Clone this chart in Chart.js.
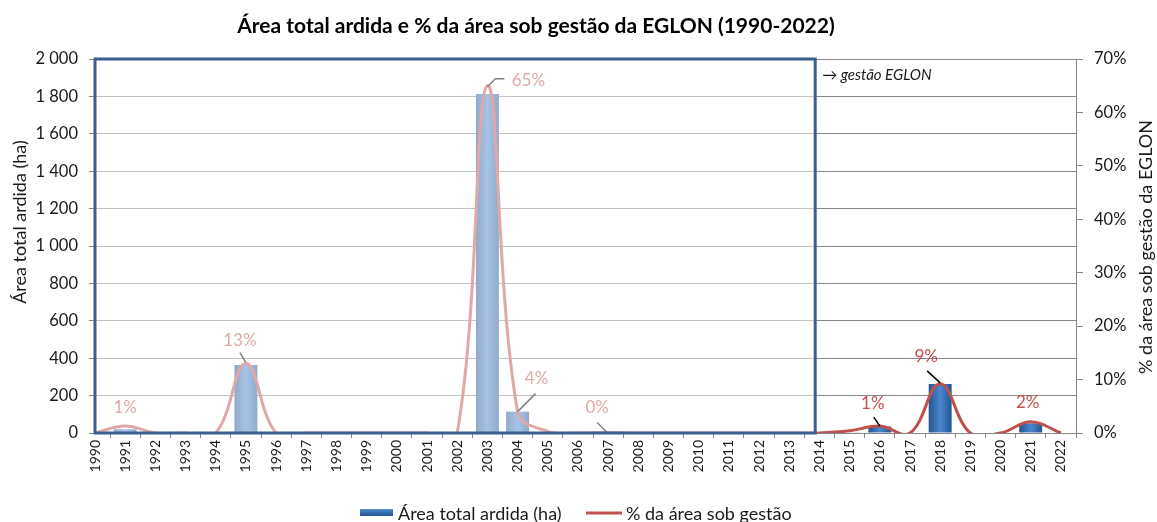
<!DOCTYPE html>
<html><head><meta charset="utf-8">
<script src="https://cdn.jsdelivr.net/npm/chart.js@4.4.1/dist/chart.umd.min.js"></script>
<style>html,body{margin:0;padding:0;background:#fff;overflow:hidden}#wrap{width:1157px;height:522px;position:relative}</style>
</head><body><div id="wrap"><canvas id="c" width="1157" height="522"></canvas></div>
<script>
// ---- data ----
const years = [1990,1991,1992,1993,1994,1995,1996,1997,1998,1999,2000,2001,2002,2003,2004,2005,2006,2007,2008,2009,2010,2011,2012,2013,2014,2015,2016,2017,2018,2019,2020,2021,2022];
const areaArdida = [0,20,0,0,0,364,0,0,0,0,0,0,0,1813,114,4,0,1,0,0,0,0,0,0,0,2,35,0,262,0,0,52,0];
const pctGestao = [0,1.3,0,0,0,13,0,0,0,0,0,0,0,65,4,0.3,0,0.1,0,0,0,0,0,0,0,0.4,1.3,0,9.2,0,0,2.1,0];
const labelledYears = [1991,1995,2003,2004,2007,2016,2018,2021];
const seriesNames = ['Área total ardida (ha)', '% da área sob gestão'];
const titleText = 'Área total ardida e % da área sob gestão da EGLON (1990-2022)';
const leftAxisTitle = 'Área total ardida (ha)';
const rightAxisTitle = '% da área sob gestão da EGLON';
const noteText = '→ gestão EGLON';
const managedFrom = 2014;

// ---- styles / label placement ----
const labelPlacement = {
  1991: {dx: 0, dy: -19, leader: null},
  1995: {dx: -6, dy: -23, leader: [[0,-1],[-6,-11]]},
  2003: {dx: 41, dy: -5, leader: [[0,1],[8,-7],[17,-7]]},
  2004: {dx: 19, dy: -33, leader: [[0,0],[18,-18]]},
  2007: {dx: -11, dy: -25, leader: [[-1,0],[-11,-10]]},
  2016: {dx: -7, dy: -23, leader: [[0,0],[-6,-9]]},
  2018: {dx: -14, dy: -27, leader: [[0,-1],[-13,-13]]},
  2021: {dx: -3, dy: -19, leader: null}
};
const FONT = 'Lato, "Open Sans", sans-serif';
const TXT = '#1a1a1a';
const RED = '#C0504D';

function fmtThousands(v){
  v = Math.round(v);
  if (v >= 1000) return Math.floor(v/1000) + ' ' + String(v%1000).padStart(3,'0');
  return String(v);
}
function barGradient(c, x0, x1){
  const g = c.createLinearGradient(x0,0,x1,0);
  g.addColorStop(0,'#23548F');
  g.addColorStop(0.5,'#4C88D0');
  g.addColorStop(1,'#23548F');
  return g;
}

const overlayPlugin = {
  id: 'overlay',
  afterDatasetsDraw(chart){
    const c = chart.ctx, xs = chart.scales.x, yr = chart.scales.yR, a = chart.chartArea;
    // data labels + leaders
    c.save();
    c.font = '17px ' + FONT;
    c.textAlign = 'center'; c.textBaseline = 'middle';
    labelledYears.forEach(yv => {
      const i = years.indexOf(yv);
      const v = pctGestao[i];
      const px = xs.getPixelForValue(yv), py = yr.getPixelForValue(v);
      const p = labelPlacement[yv];
      if (p.leader){
        c.beginPath();
        p.leader.forEach((pt,k)=>{ const X=px+pt[0], Y=py+pt[1]; k?c.lineTo(X,Y):c.moveTo(X,Y); });
        c.strokeStyle = '#000'; c.lineWidth = 1.5; c.stroke();
      }
      c.fillStyle = RED;
      c.fillText(Math.round(v) + '%', px + p.dx, py + p.dy);
    });
    c.restore();
    // pre-management overlay
    const xL = a.left, xR = xs.getPixelForValue(managedFrom - 0.14);
    c.save();
    c.fillStyle = 'rgba(255,255,255,0.5)';
    c.fillRect(xL, a.top, xR - xL, a.bottom - a.top);
    c.strokeStyle = '#3B5E8C'; c.lineWidth = 3;
    c.strokeRect(xL, a.top, xR - xL, a.bottom - a.top);
    c.fillStyle = TXT;
    c.font = 'italic 15px ' + FONT;
    c.textAlign = 'left'; c.textBaseline = 'alphabetic';
    c.fillText(noteText, xR + 7, a.top + 21);
    c.restore();
  },
  afterDraw(chart){
    const c = chart.ctx, a = chart.chartArea;
    c.save();
    // title
    c.fillStyle = '#000';
    c.font = 'bold 21px ' + FONT;
    c.textAlign = 'center'; c.textBaseline = 'alphabetic';
    c.fillText(titleText, 536, 33);
    // axis titles
    c.font = '18px ' + FONT;
    c.fillStyle = TXT;
    c.textBaseline = 'middle';
    c.translate(20, 222); c.rotate(-Math.PI/2); c.fillText(leftAxisTitle, 0, 0);
    c.setTransform(1,0,0,1,0,0);
    c.translate(1146, 247); c.rotate(-Math.PI/2); c.fillText(rightAxisTitle, 0, 0);
    c.setTransform(1,0,0,1,0,0);
    // legend
    const ly = 513;
    const g = c.createLinearGradient(0, ly-4, 0, ly+4);
    g.addColorStop(0,'#5A93D6'); g.addColorStop(0.5,'#2F66AA'); g.addColorStop(1,'#23548F');
    c.fillStyle = g;
    c.fillRect(360, ly-4, 33, 7);
    c.fillStyle = TXT; c.textAlign = 'left'; c.font = '18px ' + FONT;
    c.textBaseline = 'alphabetic';
    c.fillText(chart.data.datasets[1].label, 398, ly + 7);
    c.beginPath(); c.moveTo(586, ly); c.lineTo(622, ly);
    c.strokeStyle = RED; c.lineWidth = 3; c.stroke();
    c.fillText(chart.data.datasets[0].label, 626, ly + 7);
    c.restore();
  }
};

new Chart(document.getElementById('c'), {
  data: {
    datasets: [
      {
        type: 'line', label: seriesNames[1], yAxisID: 'yR', order: 0,
        data: years.map((y,i)=>({x:y, y:pctGestao[i]})),
        borderColor: RED, borderWidth: 3, tension: 0.4, pointRadius: 0,
        capBezierPoints: false, fill: false
      },
      {
        type: 'bar', label: seriesNames[0], yAxisID: 'yL', order: 1,
        data: years.map((y,i)=>({x:y, y:areaArdida[i]})),
        categoryPercentage: 0.8, barPercentage: 0.95,
        backgroundColor: (ctx) => {
          const ch = ctx.chart;
          if (!ch.chartArea || ctx.type !== 'data') return '#3A70B8';
          const x = ch.scales.x.getPixelForValue(ctx.raw.x);
          return barGradient(ch.ctx, x - 11.5, x + 11.5);
        }
      }
    ]
  },
  options: {
    responsive: false, animation: false,
    layout: {padding: {top: 59, left: 0, right: 0, bottom: 0}},
    plugins: {legend: {display: false}, tooltip: {enabled: false}, title: {display: false}},
    scales: {
      x: {
        type: 'linear', min: 1990, max: 2022.5, offset: false,
        afterFit(s){ s.height = 89; },
        grid: {drawOnChartArea: false, drawTicks: true, tickLength: 5, color: '#868686'},
        border: {display: true, color: '#868686', width: 1},
        ticks: {stepSize: 1, includeBounds: false, autoSkip: false, minRotation: 90, maxRotation: 90,
          padding: 2, color: TXT, font: {family: FONT, size: 14}, callback: v => String(v)}
      },
      yL: {
        position: 'left', min: 0, max: 2000,
        afterFit(s){ s.width = 95; },
        grid: {color: '#868686', lineWidth: 1, tickLength: 6, drawTicks: true},
        border: {display: true, color: '#868686'},
        ticks: {stepSize: 200, padding: 11, color: TXT, font: {family: FONT, size: 16.5}, callback: v => fmtThousands(v)}
      },
      yR: {
        position: 'right', min: 0, max: 70,
        afterFit(s){ s.width = 81; },
        grid: {drawOnChartArea: false, tickLength: 7, color: '#868686'},
        border: {display: true, color: '#868686'},
        ticks: {stepSize: 10, padding: 11, color: TXT, font: {family: FONT, size: 16.5}, callback: v => v + '%'}
      }
    }
  },
  plugins: [overlayPlugin]
});
</script>
</body></html>
